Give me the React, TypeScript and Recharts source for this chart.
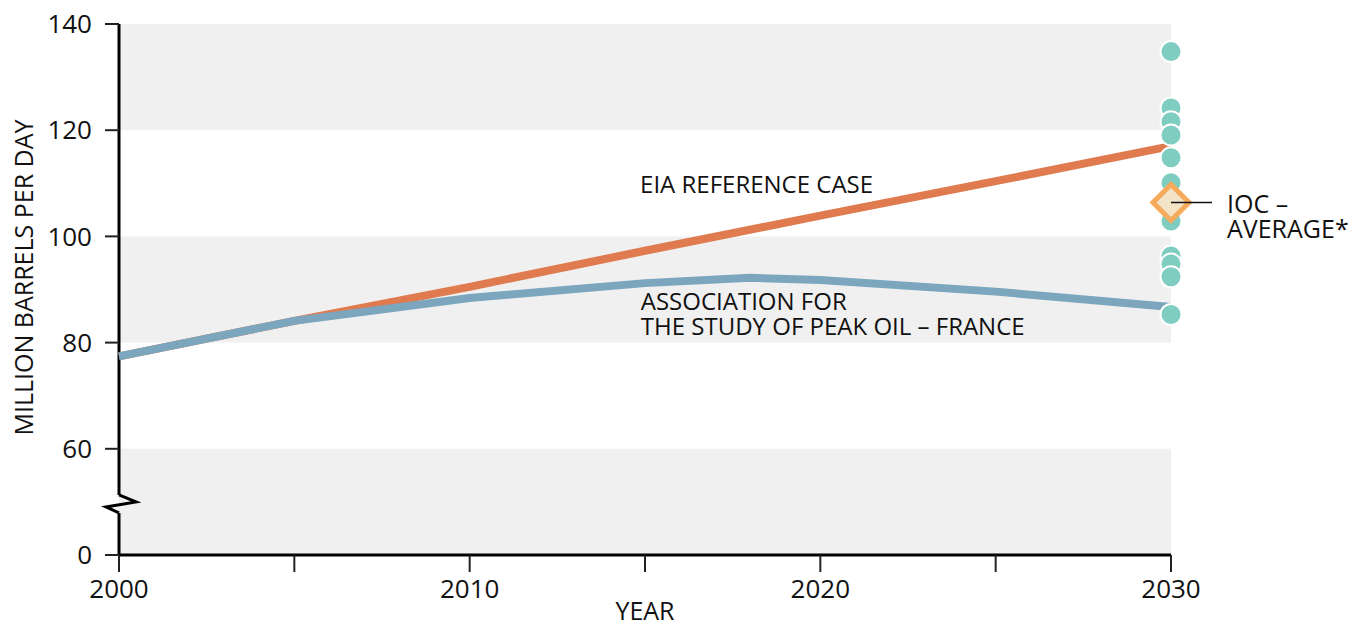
import { ComposedChart, Line, Scatter, XAxis, YAxis, ReferenceArea, ReferenceLine, ReferenceDot } from 'recharts'

const FONT = '"Open Sans", "Noto Sans", sans-serif'

// the y axis is broken: the tick at 40 on the scale is labelled 0
const Y_TICKS = [40, 60, 80, 100, 120, 140]
const X_TICKS = [2000, 2005, 2010, 2015, 2020, 2025, 2030]
const BANDS = [
  [120, 140],
  [80, 100],
  [40, 60],
]

const eiaReference = [
  { year: 2000, value: 77.4 },
  { year: 2005, value: 84.1 },
  { year: 2010, value: 90.5 },
  { year: 2015, value: 97.3 },
  { year: 2020, value: 103.9 },
  { year: 2025, value: 110.4 },
  { year: 2030, value: 117 },
]

const aspoFrance = [
  { year: 2000, value: 77.4 },
  { year: 2005, value: 84.1 },
  { year: 2010, value: 88.4 },
  { year: 2015, value: 91.2 },
  { year: 2018, value: 92.2 },
  { year: 2020, value: 91.8 },
  { year: 2025, value: 89.6 },
  { year: 2030, value: 86.7 },
]

const iocForecasts = [
  { year: 2030, value: 134.8 },
  { year: 2030, value: 124.2 },
  { year: 2030, value: 121.6 },
  { year: 2030, value: 119.1 },
  { year: 2030, value: 114.8 },
  { year: 2030, value: 110.1 },
  { year: 2030, value: 102.9 },
  { year: 2030, value: 96.3 },
  { year: 2030, value: 94.8 },
  { year: 2030, value: 92.4 },
  { year: 2030, value: 85.3 },
]

const iocAverage = [{ year: 2030, value: 106.4 }]

function Circle(p: any) {
  return <circle cx={p.cx} cy={p.cy} r={10.5} fill="#7ECDC0" stroke="#fff" strokeWidth={2} />
}

function Diamond(p: any) {
  const { cx, cy } = p
  const s = 18
  return (
    <g>
      <polygon
        points={`${cx},${cy - s} ${cx + s},${cy} ${cx},${cy + s} ${cx - s},${cy}`}
        fill="#F3E4C8"
        stroke="#F6AB5C"
        strokeWidth={5}
      />
      <line x1={cx} y1={cy} x2={cx + 41} y2={cy} stroke="#111" strokeWidth={1.5} />
      <text x={cx + 56} y={cy + 10.5} fontFamily={FONT} fontSize={25} fill="#111">IOC –</text>
      <text x={cx + 56} y={cy + 35.5} fontFamily={FONT} fontSize={25} fill="#111">AVERAGE*</text>
    </g>
  )
}

function AxisBreak(p: any) {
  const { cx, cy } = p
  return (
    <path
      d={`M${cx},${cy - 7} L${cx + 17},${cy} L${cx - 13},${cy + 5} L${cx},${cy + 11}`}
      fill="none"
      stroke="#000"
      strokeWidth={3}
    />
  )
}

function TextLines({ cx, cy, lines, size }: any) {
  return (
    <g>
      {lines.map((t: string, i: number) => (
        <text key={i} x={cx} y={cy + i * 25} fontFamily={FONT} fontSize={size} fill="#111">{t}</text>
      ))}
    </g>
  )
}

export default function App() {
  return (
    <div style={{ position: 'absolute', left: 0, top: 0, background: '#fff' }}>
      <ComposedChart width={1362} height={626} margin={{ top: 24, right: 191, left: 0, bottom: 0 }}>
        {BANDS.map(([a, b]) => (
          <ReferenceArea key={a} x1={2000} x2={2030} y1={a} y2={b} fill="#F0F0F0" fillOpacity={1} stroke="none" />
        ))}
        <XAxis
          dataKey="year"
          type="number"
          domain={[2000, 2030]}
          ticks={X_TICKS}
          tickFormatter={(v) => (v % 10 === 0 ? String(v) : '')}
          height={71}
          tickSize={17}
          tickMargin={8}
          axisLine={{ stroke: '#000', strokeWidth: 3 }}
          tickLine={{ stroke: '#222', strokeWidth: 2 }}
          tick={{ fill: '#111', fontSize: 26, fontFamily: FONT }}
          interval={0}
          label={(props: any) => {
            const vb = props.viewBox
            return (
              <text x={vb.x + vb.width / 2} y={620} textAnchor="middle" fontFamily={FONT} fontSize={25} fill="#111">YEAR</text>
            )
          }}
        />
        <YAxis
          type="number"
          domain={[40, 140]}
          ticks={Y_TICKS}
          tickFormatter={(v) => (v === 40 ? '0' : String(v))}
          width={119}
          tickSize={14}
          tickMargin={13}
          axisLine={false}
          tickLine={{ stroke: '#222', strokeWidth: 2 }}
          tick={{ fill: '#111', fontSize: 26, fontFamily: FONT }}
          interval={0}
          label={(props: any) => {
            const vb = props.viewBox
            return (
              <text
                transform={`translate(33, ${vb.y + vb.height / 2 - 12}) rotate(-90)`}
                textAnchor="middle"
                fontFamily={FONT}
                fontSize={25}
                fill="#111"
              >
                MILLION BARRELS PER DAY
              </text>
            )
          }}
        />
        <ReferenceLine segment={[{ x: 2000, y: 40 }, { x: 2000, y: 47.9 }]} stroke="#000" strokeWidth={3} ifOverflow="visible" />
        <ReferenceLine segment={[{ x: 2000, y: 51.3 }, { x: 2000, y: 140 }]} stroke="#000" strokeWidth={3} ifOverflow="visible" />
        <ReferenceDot x={2000} y={50} ifOverflow="visible" shape={AxisBreak} />

        <Line data={eiaReference} dataKey="value" stroke="#E07A4F" strokeWidth={8} dot={false} isAnimationActive={false} />
        <Line data={aspoFrance} dataKey="value" stroke="#7BA6BE" strokeWidth={8} dot={false} isAnimationActive={false} />
        <Scatter data={iocForecasts} dataKey="value" shape={Circle} isAnimationActive={false} />
        <Scatter data={iocAverage} dataKey="value" shape={Diamond} isAnimationActive={false} />

        <ReferenceDot
          x={2014.86}
          y={108.2}
          ifOverflow="visible"
          shape={(p: any) => <TextLines cx={p.cx} cy={p.cy} size={24} lines={['EIA REFERENCE CASE']} />}
        />
        <ReferenceDot
          x={2014.88}
          y={86.2}
          ifOverflow="visible"
          shape={(p: any) => (
            <TextLines cx={p.cx} cy={p.cy} size={24} lines={['ASSOCIATION FOR', 'THE STUDY OF PEAK OIL – FRANCE']} />
          )}
        />
      </ComposedChart>
    </div>
  )
}
